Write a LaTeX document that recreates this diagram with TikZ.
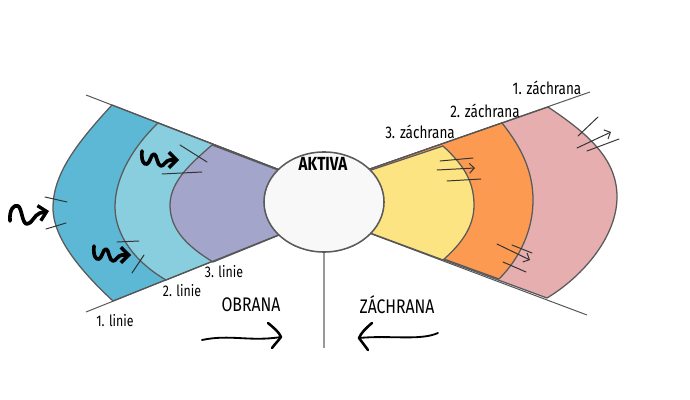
\documentclass[tikz,border=0pt]{standalone}
\usepackage{fontspec}
\setmainfont{Fira Sans}
\newfontfamily\hand[FakeStretch=0.8]{Fira Sans}
\usetikzlibrary{arrows.meta,shapes.geometric}
\definecolor{cdark}{HTML}{5CB8D4}
\definecolor{clight}{HTML}{89CEDF}
\definecolor{cpurple}{HTML}{A3A5CB}
\definecolor{cyellow}{HTML}{FDE482}
\definecolor{corange}{HTML}{FD9A52}
\definecolor{cpink}{HTML}{E6AEAE}
\definecolor{cfill}{HTML}{F8F8F8}
\definecolor{bord}{HTML}{5A5A5A}
\definecolor{wline}{HTML}{555555}
\definecolor{tick}{HTML}{333333}
\tikzset{
  band/.style={draw=bord, line width=0.9pt, line join=round},
  wedgeline/.style={draw=wline, line width=0.7pt},
  tickline/.style={draw=tick, line width=0.7pt, line cap=round},
  thinarrow/.style={tickline, -{Straight Barb[length=3.5pt,width=7pt]}},
  squigline/.style={draw=black, line width=2.6pt, line cap=round, line join=round, -{Straight Barb[length=5.5pt,width=11pt,line width=2.4pt]}},
  bigarrow/.style={draw=black, line width=1.3pt, line cap=round},
  headline/.style={draw=black, line width=1.8pt, line cap=round, line join=round},
  lbl/.style={font=\hand\fontsize{11}{13}\selectfont, inner sep=0pt},
  zlbl/.style={font=\hand\fontsize{12}{14}\selectfont, inner sep=0pt},
  title/.style={font=\hand\fontsize{14}{16}\selectfont, inner sep=0pt},
  squig/.pic={\draw[squigline] (0,0) .. controls (-1,-11) and (4,-17) .. (8,-15) .. controls (12,-13) and (12,3) .. (17,3) .. controls (22,3) and (24,-6) .. (30,-8) -- (39,-10);},
  squigw/.pic={\draw[squigline] (0,0) .. controls (-1,10) and (2,14) .. (5,13) .. controls (8,12) and (9,3) .. (12,3) .. controls (15,3) and (15,15) .. (19,15) .. controls (22,15) and (24,9) .. (28,9) -- (37,9);}
}
\begin{document}
\begin{tikzpicture}[x=0.025cm, y=-0.025cm]
\useasboundingbox (0,0) rectangle (690,400);
% apexes of the wedges
\coordinate (apL) at (361.4,201.6);
\coordinate (apR) at (281,200);
% left regions
\path[band, fill=cdark] (112,105) .. controls (75,145) and (53,175) .. (53,208) .. controls (53,240) and (85,275) .. (113,301) -- (apL) -- cycle;
\path[band, fill=clight] (158,123) .. controls (130,150) and (115,180) .. (115,207) .. controls (115,235) and (135,262) .. (166,280) -- (apL) -- cycle;
\path[band, fill=cpurple] (212,145) .. controls (195,160) and (170,180) .. (170,205) .. controls (170,228) and (185,245) .. (213,262) -- (apL) -- cycle;
% right regions
\path[band, fill=cpink] (548,107) .. controls (590,135) and (617,160) .. (617,197) .. controls (617,235) and (585,275) .. (547,298) -- (apR) -- cycle;
\path[band, fill=corange] (502,123) .. controls (522,148) and (533,172) .. (533,200) .. controls (533,230) and (520,258) .. (499,279) -- (apR) -- cycle;
\path[band, fill=cyellow] (443,146) .. controls (460,162) and (474,178) .. (474,205) .. controls (474,228) and (460,245) .. (443,260) -- (apR) -- cycle;
% wedge lines
\coordinate (lt) at (86,95);
\coordinate (lb) at (86,312);
\coordinate (rt) at (590,92);
\coordinate (rb) at (587,315);
\draw[wedgeline] (lt) -- (apL);
\draw[wedgeline] (lb) -- (apL);
\draw[wedgeline] (rt) -- (apR);
\draw[wedgeline] (rb) -- (apR);
% left tick marks
\draw[tickline] (45,197) -- (67,202);
\draw[tickline] (46,229) -- (66,223);
\draw[tickline] (180,145) -- (207,162);
\draw[tickline] (162,174) -- (202,172);
\draw[tickline] (117,242) -- (139,241);
\draw[tickline] (132,273) -- (144,255);
% right tick marks and arrows
\draw[tickline] (440,161) -- (473,158);
\draw[thinarrow] (437,170) -- (475,168);
\draw[tickline] (447,181) -- (481,179);
\draw[tickline] (512,245) -- (532,253);
\draw[thinarrow] (497,244) -- (530,260);
\draw[tickline] (503,262) -- (526,272);
\draw[tickline] (578,136) -- (598,117);
\draw[thinarrow] (577,148) -- (611,132);
\draw[tickline] (587,151) -- (619,139);
% central circle
\node[ellipse, draw=bord, line width=1.1pt, fill=cfill, minimum width=3cm, minimum height=2.5cm, inner sep=0pt] (aktiva) at (324,202) {};
\node[title, font=\hand\bfseries\fontsize{13.5}{16}\selectfont] (aktivatxt) at (323,164) {AKTIVA};
\coordinate (vend) at (324,348);
\draw[draw=gray!80, line width=1pt] (aktiva.south) -- (vend);
% labels
\node[lbl] (l1) at (115,321) {1. linie};
\node[lbl] (l2) at (182,291) {2. linie};
\node[lbl] (l3) at (224,272) {3. linie};
\node[zlbl] (z1) at (547,88) {1. záchrana};
\node[zlbl] (z2) at (485,111) {2. záchrana};
\node[zlbl] (z3) at (420,132) {3. záchrana};
\node[title] (obrana) at (251,305) {OBRANA};
\node[title] (zachrana) at (397,305) {ZÁCHRANA};
% squiggle arrows
\pic at (10,221) {squig};
\pic at (94,246) {squigw};
\pic at (142,151) {squigw};
% bottom arrows
\coordinate (oa) at (202,340);
\coordinate (ob) at (281,337);
\coordinate (ot) at (268,323);
\coordinate (obt) at (272,348);
\draw[bigarrow] (oa) .. controls (230,334) and (250,342) .. (ob);
\draw[headline] (ot) .. controls (274,328) and (279,332) .. (ob) .. controls (278,341) and (275,344) .. (obt);
\coordinate (za) at (438,333);
\coordinate (zb) at (359,338);
\coordinate (zt) at (372,323);
\coordinate (zbt) at (368,350);
\draw[bigarrow] (za) .. controls (420,341) and (390,335) .. (zb);
\draw[headline] (zt) .. controls (366,328) and (361,333) .. (zb) .. controls (362,342) and (365,346) .. (zbt);
\end{tikzpicture}
\end{document}
